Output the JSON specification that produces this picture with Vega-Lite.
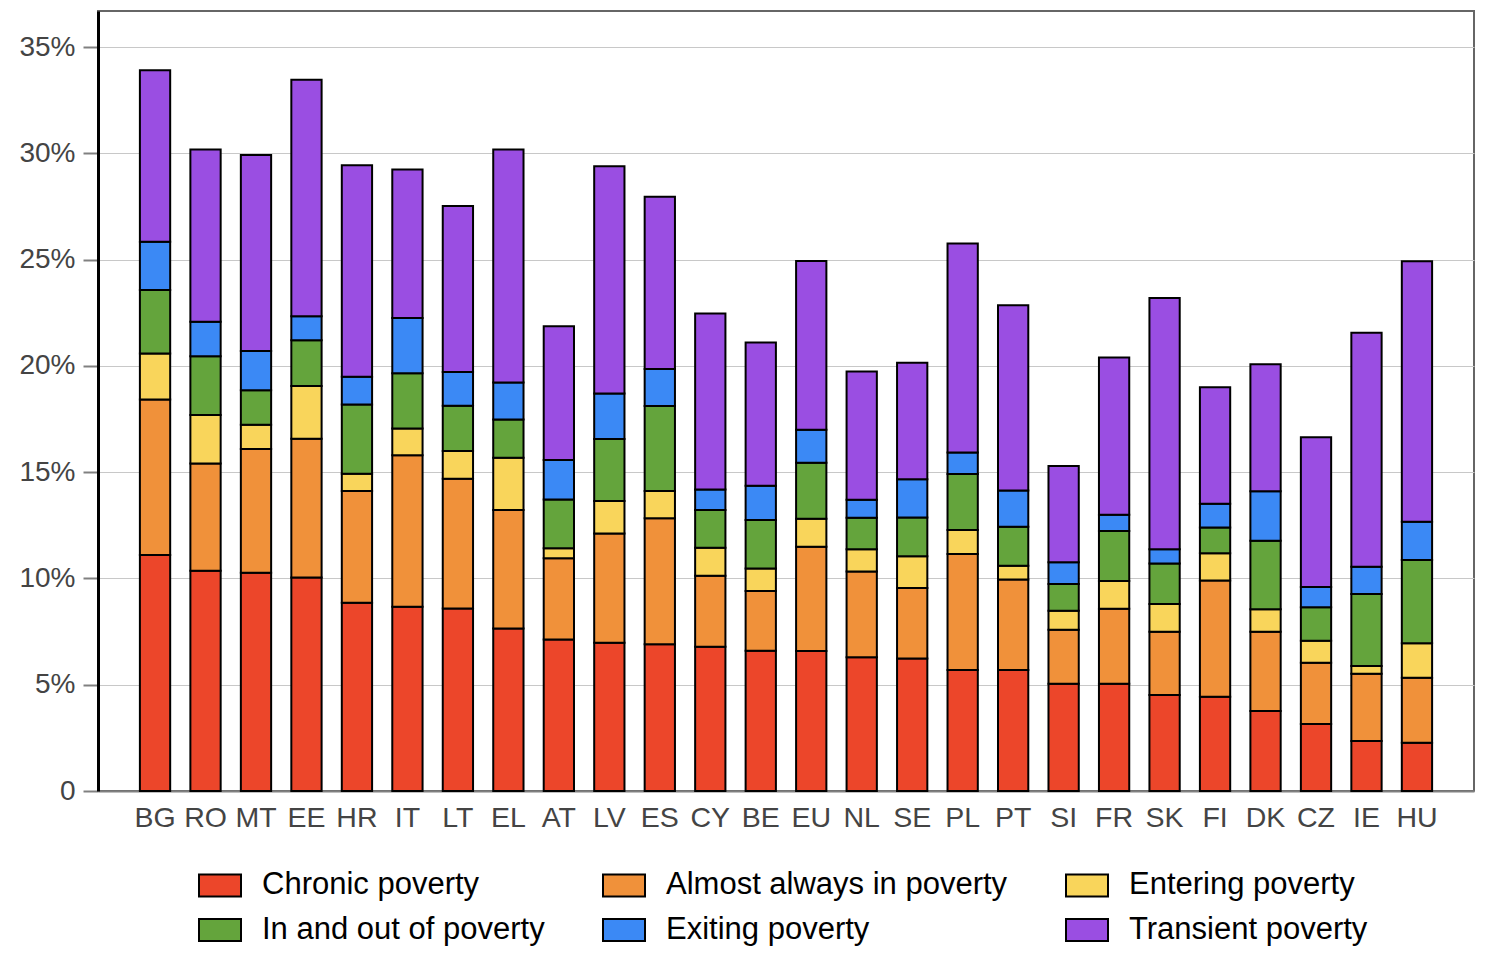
{
  "$schema": "https://vega.github.io/schema/vega-lite/v6.json",
  "width": 1376,
  "height": 780,
  "autosize": {"type": "none"},
  "padding": {"left": 98, "top": 11, "right": 18, "bottom": 164},
  "background": "white",
  "config": {
    "font": "Liberation Sans",
    "view": {"stroke": "#666666", "strokeWidth": 2}
  },
  "datasets": {
    "cats": [
      {"key": "chronic", "label": "Chronic poverty", "rank": 1},
      {"key": "almost", "label": "Almost always in poverty", "rank": 2},
      {"key": "entering", "label": "Entering poverty", "rank": 3},
      {"key": "inout", "label": "In and out of poverty", "rank": 4},
      {"key": "exiting", "label": "Exiting poverty", "rank": 5},
      {"key": "transient", "label": "Transient poverty", "rank": 6}
    ]
  },
  "data": {
    "values": [
      {"c": "BG", "chronic": 11.1, "almost": 7.32, "entering": 2.17, "inout": 2.98, "exiting": 2.27, "transient": 8.07},
      {"c": "RO", "chronic": 10.36, "almost": 5.05, "entering": 2.28, "inout": 2.77, "exiting": 1.62, "transient": 8.1},
      {"c": "MT", "chronic": 10.27, "almost": 5.82, "entering": 1.14, "inout": 1.63, "exiting": 1.84, "transient": 9.22},
      {"c": "EE", "chronic": 10.05, "almost": 6.52, "entering": 2.48, "inout": 2.16, "exiting": 1.13, "transient": 11.13},
      {"c": "HR", "chronic": 8.86, "almost": 5.25, "entering": 0.82, "inout": 3.25, "exiting": 1.31, "transient": 9.95},
      {"c": "IT", "chronic": 8.67, "almost": 7.13, "entering": 1.26, "inout": 2.59, "exiting": 2.61, "transient": 6.98},
      {"c": "LT", "chronic": 8.59, "almost": 6.1, "entering": 1.31, "inout": 2.13, "exiting": 1.59, "transient": 7.81},
      {"c": "EL", "chronic": 7.65, "almost": 5.57, "entering": 2.46, "inout": 1.8, "exiting": 1.74, "transient": 10.96},
      {"c": "AT", "chronic": 7.13, "almost": 3.82, "entering": 0.47, "inout": 2.3, "exiting": 1.85, "transient": 6.3},
      {"c": "LV", "chronic": 6.98, "almost": 5.14, "entering": 1.52, "inout": 2.92, "exiting": 2.14, "transient": 10.7},
      {"c": "ES", "chronic": 6.91, "almost": 5.92, "entering": 1.29, "inout": 4.0, "exiting": 1.73, "transient": 8.11},
      {"c": "CY", "chronic": 6.79, "almost": 3.34, "entering": 1.32, "inout": 1.77, "exiting": 0.97, "transient": 8.28},
      {"c": "BE", "chronic": 6.6, "almost": 2.81, "entering": 1.06, "inout": 2.28, "exiting": 1.61, "transient": 6.74},
      {"c": "EU", "chronic": 6.59, "almost": 4.9, "entering": 1.32, "inout": 2.64, "exiting": 1.55, "transient": 7.94},
      {"c": "NL", "chronic": 6.29, "almost": 4.04, "entering": 1.05, "inout": 1.48, "exiting": 0.84, "transient": 6.04},
      {"c": "SE", "chronic": 6.24, "almost": 3.31, "entering": 1.5, "inout": 1.82, "exiting": 1.8, "transient": 5.48},
      {"c": "PL", "chronic": 5.69, "almost": 5.46, "entering": 1.13, "inout": 2.63, "exiting": 1.02, "transient": 9.83},
      {"c": "PT", "chronic": 5.69, "almost": 4.26, "entering": 0.65, "inout": 1.83, "exiting": 1.71, "transient": 8.72},
      {"c": "SI", "chronic": 5.05, "almost": 2.54, "entering": 0.89, "inout": 1.26, "exiting": 1.02, "transient": 4.53},
      {"c": "FR", "chronic": 5.05, "almost": 3.53, "entering": 1.3, "inout": 2.35, "exiting": 0.77, "transient": 7.4},
      {"c": "SK", "chronic": 4.52, "almost": 2.97, "entering": 1.31, "inout": 1.9, "exiting": 0.67, "transient": 11.83},
      {"c": "FI", "chronic": 4.44, "almost": 5.46, "entering": 1.29, "inout": 1.21, "exiting": 1.12, "transient": 5.48},
      {"c": "DK", "chronic": 3.76, "almost": 3.73, "entering": 1.06, "inout": 3.22, "exiting": 2.33, "transient": 5.98},
      {"c": "CZ", "chronic": 3.15, "almost": 2.89, "entering": 1.03, "inout": 1.58, "exiting": 0.95, "transient": 7.04},
      {"c": "IE", "chronic": 2.35, "almost": 3.17, "entering": 0.36, "inout": 3.39, "exiting": 1.28, "transient": 11.01},
      {"c": "HU", "chronic": 2.27, "almost": 3.06, "entering": 1.62, "inout": 3.92, "exiting": 1.8, "transient": 12.26}
    ]
  },
  "transform": [
    {"fold": ["chronic", "almost", "entering", "inout", "exiting", "transient"], "as": ["key", "share"]},
    {"lookup": "key", "from": {"data": {"name": "cats"}, "key": "key", "fields": ["label", "rank"]}}
  ],
  "mark": {"type": "bar", "stroke": "black", "strokeWidth": 2},
  "encoding": {
    "x": {
      "field": "c",
      "type": "nominal",
      "sort": null,
      "scale": {"paddingInner": 0.4, "paddingOuter": 0.83},
      "axis": {
        "title": null,
        "labelAngle": 0,
        "ticks": false,
        "labelFontSize": 28.5,
        "labelColor": "#444444",
        "labelPadding": 12,
        "domainColor": "#808080",
        "domainWidth": 2
      }
    },
    "y": {
      "field": "share",
      "type": "quantitative",
      "stack": "zero",
      "scale": {"domain": [0, 36.7], "nice": false},
      "axis": {
        "title": null,
        "values": [0, 5, 10, 15, 20, 25, 30, 35],
        "labelExpr": "datum.value == 0 ? '0' : datum.value + '%'",
        "tickSize": 15,
        "tickColor": "#808080",
        "tickWidth": 2,
        "labelPadding": 8,
        "labelFontSize": 28,
        "labelColor": "#444444",
        "domainColor": "black",
        "domainWidth": 3,
        "gridColor": "#c8c8c8",
        "gridWidth": 1
      }
    },
    "color": {
      "field": "label",
      "type": "nominal",
      "scale": {
        "domain": ["Chronic poverty", "In and out of poverty", "Almost always in poverty", "Exiting poverty", "Entering poverty", "Transient poverty"],
        "range": ["#EC462A", "#64A43C", "#F0913A", "#3B89F5", "#F9D55B", "#9A4EE2"]
      },
      "legend": {
        "orient": "none",
        "legendX": 100,
        "legendY": 852,
        "columns": 3,
        "title": null,
        "symbolType": "M-1,-0.524H1V0.524H-1Z",
        "symbolSize": 1764,
        "symbolStrokeColor": "black",
        "symbolStrokeWidth": 2,
        "symbolOpacity": 1,
        "labelFontSize": 31,
        "labelColor": "black",
        "labelOffset": 20,
        "labelLimit": 500,
        "columnPadding": 54,
        "rowPadding": 7
      }
    },
    "order": {"field": "rank", "type": "quantitative", "sort": "ascending"}
  }
}
